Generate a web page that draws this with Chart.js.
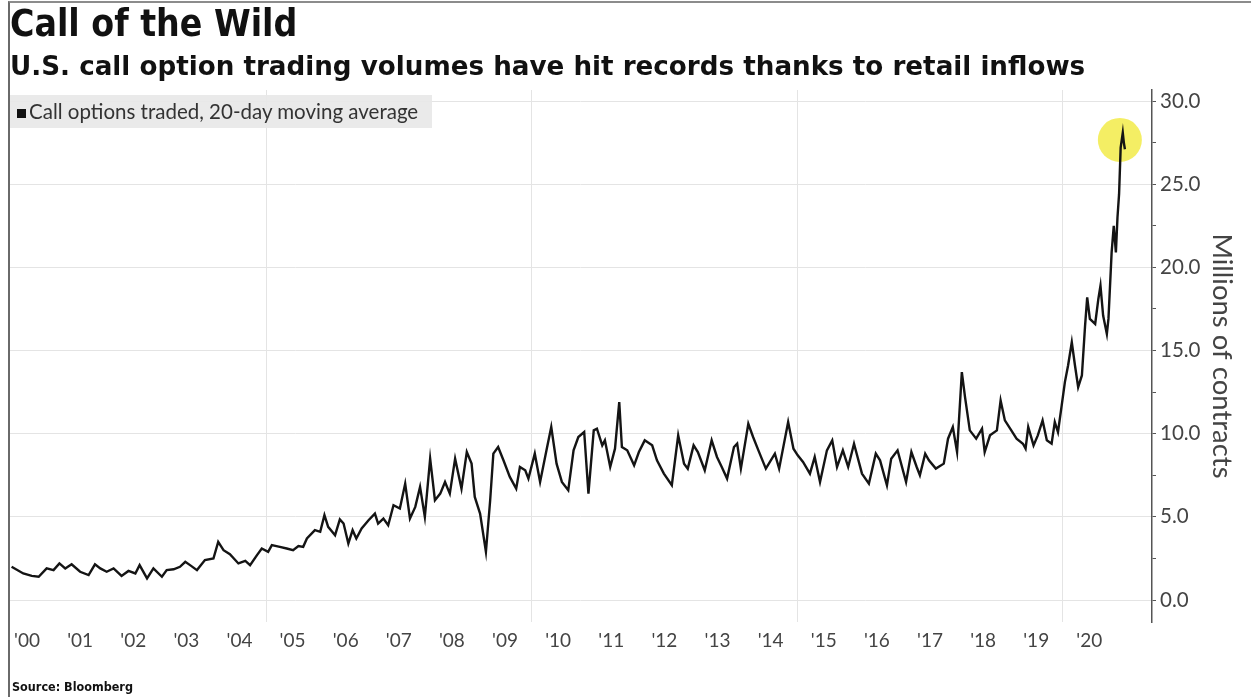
<!DOCTYPE html>
<html>
<head>
<meta charset="utf-8">
<script src="https://cdn.jsdelivr.net/npm/chart.js@4.4.1/dist/chart.umd.min.js"></script>
<style>
  html, body { margin: 0; padding: 0; background: #fff; }
  #wrap { position: relative; width: 1251px; height: 697px; overflow: hidden; }
  #frame {
    position: absolute; left: 8px; top: 1px; width: 1243px; height: 696px;
    border-left: 2px solid #6a6a6a; border-top: 2px solid #8c8c8c;
    pointer-events: none;
  }
  #legend {
    position: absolute; left: 10px; top: 95px; width: 422px; height: 33px;
    background: rgba(232,232,232,0.92);
    font-family: Lato, "Open Sans", sans-serif; font-size: 20.5px; color: #333;
    line-height: 33px; white-space: nowrap;
  }
  #legend .sq {
    display: inline-block; width: 9px; height: 9px; background: #111;
    margin: 0 3px 0 7px; vertical-align: 1px;
  }
  #source {
    position: absolute; left: 12px; top: 679px;
    font-family: "DejaVu Sans Condensed", "DejaVu Sans", sans-serif;
    font-weight: bold; font-size: 12.5px; color: #111;
  }
</style>
</head>
<body>
<div id="wrap">
  <canvas id="callChart" width="1251" height="697"></canvas>
  <div id="legend"></div>
  <div id="source">Source: Bloomberg</div>
  <div id="frame"></div>
</div>
<script>
// ===== DATA (decimal year, millions of contracts) =====
const SERIES_LABEL = "Call options traded, 20-day moving average";

const DATES = [
  2000.21, 2000.43, 2000.59, 2000.72, 2000.87, 2001.00, 2001.11, 2001.22, 2001.34, 2001.50,
  2001.66, 2001.78, 2001.88, 2002.00, 2002.13, 2002.28, 2002.41, 2002.54, 2002.62, 2002.76,
  2002.88, 2003.04, 2003.13, 2003.26, 2003.38, 2003.48, 2003.57, 2003.70, 2003.85, 2004.01,
  2004.10, 2004.20, 2004.32, 2004.48, 2004.61, 2004.70, 2004.83, 2004.92, 2005.04, 2005.11,
  2005.26, 2005.39, 2005.51, 2005.61, 2005.70, 2005.77, 2005.92, 2006.02, 2006.10, 2006.17,
  2006.30, 2006.39, 2006.46, 2006.55, 2006.63, 2006.70, 2006.80, 2006.93, 2007.05, 2007.11,
  2007.21, 2007.30, 2007.40, 2007.52, 2007.62, 2007.71, 2007.81, 2007.90, 2007.99, 2008.09,
  2008.18, 2008.28, 2008.37, 2008.46, 2008.56, 2008.68, 2008.78, 2008.87, 2008.93, 2009.03,
  2009.14, 2009.22, 2009.28, 2009.37, 2009.47, 2009.59, 2009.71, 2009.78, 2009.88, 2009.94,
  2010.06, 2010.16, 2010.28, 2010.37, 2010.47, 2010.57, 2010.69, 2010.79, 2010.88, 2010.99,
  2011.07, 2011.17, 2011.23, 2011.33, 2011.38, 2011.48, 2011.57, 2011.65, 2011.70, 2011.80,
  2011.93, 2012.02, 2012.13, 2012.27, 2012.36, 2012.49, 2012.64, 2012.76, 2012.87, 2012.94,
  2013.05, 2013.13, 2013.26, 2013.39, 2013.49, 2013.58, 2013.68, 2013.81, 2013.87, 2013.94,
  2014.08, 2014.17, 2014.27, 2014.41, 2014.58, 2014.66, 2014.83, 2014.93, 2015.01, 2015.11,
  2015.24, 2015.33, 2015.43, 2015.56, 2015.66, 2015.75, 2015.86, 2015.96, 2016.07, 2016.22,
  2016.35, 2016.48, 2016.56, 2016.69, 2016.77, 2016.89, 2017.05, 2017.15, 2017.25, 2017.31,
  2017.41, 2017.48, 2017.61, 2017.76, 2017.84, 2017.93, 2018.01, 2018.10, 2018.16, 2018.25,
  2018.37, 2018.48, 2018.53, 2018.63, 2018.76, 2018.83, 2018.91, 2019.01, 2019.13, 2019.25,
  2019.30, 2019.35, 2019.45, 2019.53, 2019.62, 2019.70, 2019.79, 2019.85, 2019.91, 2019.98,
  2020.04, 2020.10, 2020.17, 2020.23, 2020.29, 2020.36, 2020.42, 2020.46, 2020.51, 2020.61,
  2020.67, 2020.71, 2020.76, 2020.83, 2020.86, 2020.92, 2020.96, 2021.00, 2021.03, 2021.06,
  2021.09, 2021.13, 2021.15, 2021.17
];

const CALLS = [
  2.0, 1.6, 1.45, 1.4, 1.9, 1.8, 2.2, 1.9, 2.15, 1.7,
  1.5, 2.15, 1.9, 1.7, 1.9, 1.45, 1.75, 1.6, 2.1, 1.3,
  1.9, 1.4, 1.8, 1.85, 2.0, 2.3, 2.1, 1.8, 2.4, 2.5,
  3.5, 3.0, 2.75, 2.2, 2.35, 2.1, 2.7, 3.1, 2.9, 3.3,
  3.2, 3.1, 3.0, 3.25, 3.2, 3.7, 4.2, 4.1, 5.1, 4.4,
  3.9, 4.85, 4.6, 3.4, 4.2, 3.7, 4.3, 4.8, 5.2, 4.6,
  4.9, 4.5, 5.7, 5.5, 7.0, 4.9, 5.6, 6.8, 5.0, 8.5,
  6.0, 6.4, 7.1, 6.4, 8.5, 6.7, 8.9, 8.2, 6.2, 5.2,
  2.9, 6.0, 8.8, 9.2, 8.4, 7.4, 6.7, 8.0, 7.8, 7.3,
  8.8, 7.1, 9.0, 10.4, 8.2, 7.1, 6.6, 9.0, 9.8, 10.1,
  6.4, 10.2, 10.3, 9.3, 9.6, 8.0, 9.1, 11.9, 9.2, 9.0,
  8.1, 8.9, 9.6, 9.3, 8.4, 7.6, 6.9, 9.9, 8.2, 7.9,
  9.3, 8.9, 7.8, 9.6, 8.6, 8.0, 7.3, 9.2, 9.4, 7.9,
  10.6, 9.8, 9.0, 7.9, 8.8, 7.9, 10.7, 9.1, 8.7, 8.3,
  7.6, 8.6, 7.1, 9.0, 9.6, 8.0, 9.0, 8.0, 9.4, 7.6,
  7.0, 8.8, 8.4, 6.9, 8.5, 9.0, 7.1, 8.9, 8.0, 7.5,
  8.8, 8.4, 7.9, 8.2, 9.7, 10.4, 8.9, 13.7, 12.2, 10.2,
  9.7, 10.3, 8.9, 9.9, 10.2, 12.0, 10.8, 10.3, 9.7, 9.4,
  9.1, 10.4, 9.3, 9.9, 10.8, 9.6, 9.4, 10.7, 10.1, 11.7,
  13.1, 14.1, 15.5, 14.1, 12.8, 13.5, 16.5, 18.2, 16.9, 16.6,
  18.1, 18.9, 17.1, 16.0, 16.9, 20.9, 22.5, 20.9, 23.0, 24.4,
  27.2, 28.1, 27.5, 27.1
];

// record peak highlight (yellow circle)
const HIGHLIGHT_DATE = [2021.075];
const HIGHLIGHT_VALUE = [27.66];

// ===== AXES =====
const YEAR_LABELS = ["'00", "'01", "'02", "'03", "'04", "'05", "'06", "'07", "'08", "'09", "'10",
                     "'11", "'12", "'13", "'14", "'15", "'16", "'17", "'18", "'19", "'20"];
const FIRST_YEAR = 2000;
const X_GRID_YEARS = [2005, 2010, 2015, 2020];
const Y_TICKS = [0, 2.5, 5, 7.5, 10, 12.5, 15, 17.5, 20, 22.5, 25, 27.5, 30];
const X_MIN = 2000.18, X_MAX = 2021.68;
const Y_MIN = -1.32, Y_MAX = 30.66;

document.getElementById("legend").innerHTML =
  '<span class="sq"></span>' + SERIES_LABEL;

// keep Chart.js from reserving extra room for edge labels
function noEdgePadding(axis) {
  axis.paddingLeft = 0;
  axis.paddingRight = 0;
  axis.paddingTop = 0;
  axis.paddingBottom = 0;
}

function createCallChart(canvasId) {
  const canvas = document.getElementById(canvasId);
  if (!canvas) return;
  const ctx = canvas.getContext("2d");

  return new Chart(ctx, {
    type: "line",
    data: {
      datasets: [
        {
          label: SERIES_LABEL,
          data: DATES.map((d, i) => ({ x: d, y: CALLS[i] })),
          borderColor: "#141414",
          borderWidth: 2.4,
          pointRadius: 0,
          tension: 0,
          fill: false,
          xAxisID: "x",
          yAxisID: "y",
          order: 1
        },
        {
          label: "highlight",
          data: HIGHLIGHT_DATE.map((d, i) => ({ x: d, y: HIGHLIGHT_VALUE[i] })),
          showLine: false,
          pointRadius: 22,
          pointHoverRadius: 22,
          pointBackgroundColor: "rgba(240,232,40,0.72)",
          pointBorderWidth: 0,
          xAxisID: "x",
          yAxisID: "y",
          order: 2
        }
      ]
    },

    options: {
      responsive: false,
      animation: false,
      devicePixelRatio: 1,
      layout: {
        autoPadding: false,
        padding: { left: 10, right: 12, top: 0, bottom: 0 }
      },

      plugins: {
        legend: { display: false },
        tooltip: { enabled: false },
        title: {
          display: true,
          text: "Call of the Wild",
          align: "start",
          color: "#111",
          font: { family: "'DejaVu Sans Condensed', 'DejaVu Sans'", size: 37, weight: "bold" },
          padding: { top: 4, bottom: 0 }
        },
        subtitle: {
          display: true,
          text: "U.S. call option trading volumes have hit records thanks to retail inflows",
          align: "start",
          color: "#111",
          font: { family: "DejaVu Sans", size: 26.2, weight: "bold" },
          padding: { top: 4, bottom: 6.2 }
        }
      },

      scales: {
        x: {
          type: "linear",
          position: "bottom",
          min: X_MIN,
          max: X_MAX,
          afterBuildTicks: axis => {
            axis.ticks = YEAR_LABELS.map((_, i) => ({ value: FIRST_YEAR + i + 0.5 }));
          },
          afterFit: axis => { axis.height = 75; noEdgePadding(axis); },
          grid: { display: false, drawTicks: false },
          border: { display: false },
          ticks: {
            autoSkip: false,
            maxRotation: 0,
            padding: 7,
            color: "#444",
            font: { family: "Lato", size: 19 },
            callback: value => YEAR_LABELS[Math.floor(value) - FIRST_YEAR]
          }
        },

        xGrid: {
          type: "linear",
          position: "bottom",
          min: X_MIN,
          max: X_MAX,
          afterBuildTicks: axis => {
            axis.ticks = X_GRID_YEARS.map(v => ({ value: v }));
          },
          afterFit: axis => { axis.height = 0; noEdgePadding(axis); },
          grid: { color: "#e4e4e4", lineWidth: 1, drawTicks: false },
          border: { display: false },
          ticks: { display: false }
        },

        y: {
          type: "linear",
          position: "right",
          min: Y_MIN,
          max: Y_MAX,
          afterBuildTicks: axis => {
            axis.ticks = Y_TICKS.map(v => ({ value: v }));
          },
          afterFit: axis => { axis.width = 87; noEdgePadding(axis); },
          grid: {
            color: ctx => (ctx.tick && ctx.tick.value % 5 === 0) ? "#e4e4e4" : "rgba(0,0,0,0)",
            tickColor: "#555",
            tickLength: 4,
            lineWidth: 1
          },
          border: { display: true, color: "#555", width: 1.5 },
          ticks: {
            padding: 4,
            color: "#444",
            font: { family: "Lato", size: 20.5 },
            callback: value => value % 5 === 0 ? value.toFixed(1) : ""
          },
          title: {
            display: true,
            text: "Millions of contracts",
            color: "#444",
            font: { family: "Lato", size: 27.5 },
            padding: { top: 1, bottom: 1 }
          }
        }
      }
    }
  });
}

// ===== INIT =====
window.callChart = createCallChart("callChart");
</script>
</body>
</html>
